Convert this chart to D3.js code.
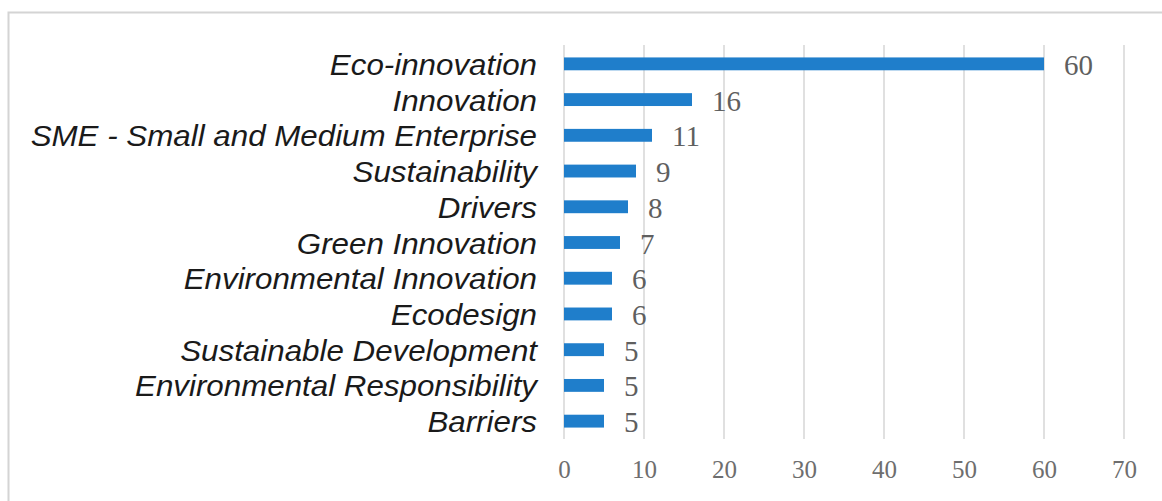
<!DOCTYPE html>
<html>
<head>
<meta charset="utf-8">
<script src="https://cdn.jsdelivr.net/npm/d3@7/dist/d3.min.js"></script>
<style>
  html, body { margin: 0; padding: 0; background: #ffffff; }
  svg { display: block; }
</style>
</head>
<body>
<svg id="chart" width="1162" height="501"></svg>
<script>
const categories = [
  "Eco-innovation",
  "Innovation",
  "SME - Small and Medium Enterprise",
  "Sustainability",
  "Drivers",
  "Green Innovation",
  "Environmental Innovation",
  "Ecodesign",
  "Sustainable Development",
  "Environmental Responsibility",
  "Barriers"
];
const values = [60, 16, 11, 9, 8, 7, 6, 6, 5, 5, 5];
const tickValues = [0, 10, 20, 30, 40, 50, 60, 70];

const svg = d3.select("#chart");

// outer frame (partially visible in reference)
svg.append("path")
  .attr("d", "M8.5,501 L8.5,12.5 L1162,12.5")
  .attr("fill", "none")
  .attr("stroke", "#d4d4d4")
  .attr("stroke-width", 2);

const x = d3.scaleLinear().domain([0, 70]).range([564, 1124]);
const y = d3.scaleBand().domain(categories).range([46, 439]).paddingInner(0.64).paddingOuter(0.32);

// gridlines
svg.append("g").selectAll("line")
  .data(tickValues)
  .join("line")
  .attr("x1", d => x(d)).attr("x2", d => x(d))
  .attr("y1", 45).attr("y2", 439)
  .attr("stroke", "#d6d6d6")
  .attr("stroke-width", 1.5);

// x axis tick labels
const xAxis = d3.axisBottom(x).tickValues(tickValues).tickSize(0).tickPadding(0);
const gx = svg.append("g").attr("transform", "translate(0,478)").call(xAxis);
gx.select(".domain").remove();
gx.selectAll("text")
  .attr("font-family", "'Liberation Serif', 'Times New Roman', serif")
  .attr("font-size", 25)
  .attr("fill", "#6e6e6e")
  .attr("dy", "0");

// y axis category labels
const yAxis = d3.axisLeft(y).tickSize(0).tickPadding(0);
const gy = svg.append("g").attr("transform", "translate(537,0) scale(1.08,1)").call(yAxis);
gy.select(".domain").remove();
gy.selectAll("text")
  .attr("font-family", "'Liberation Sans', Arial, sans-serif")
  .attr("font-style", "italic")
  .attr("font-size", 29)
  .attr("fill", "#1a1a1a")
  .attr("text-anchor", "end")
  .attr("dy", "0.38em");

// bars
svg.append("g").selectAll("rect")
  .data(categories)
  .join("rect")
  .attr("x", x(0))
  .attr("y", d => y(d))
  .attr("width", (d, i) => x(values[i]) - x(0))
  .attr("height", y.bandwidth())
  .attr("fill", "#1f7ecb");

// value labels
svg.append("g").selectAll("text")
  .data(categories)
  .join("text")
  .attr("x", (d, i) => x(values[i]) + 20)
  .attr("y", d => y(d) + y.bandwidth() / 2)
  .attr("dy", "0.38em")
  .attr("font-family", "'Liberation Serif', 'Times New Roman', serif")
  .attr("font-size", 29)
  .attr("fill", "#5f5f5f")
  .text((d, i) => values[i]);
</script>
</body>
</html>
